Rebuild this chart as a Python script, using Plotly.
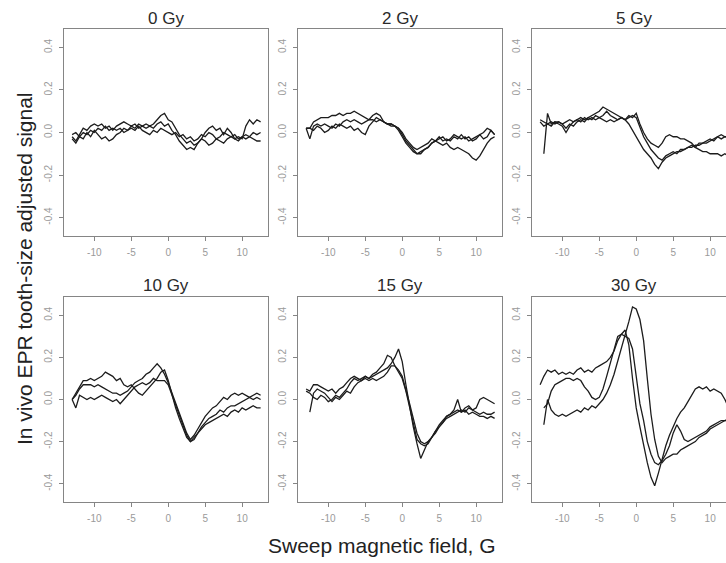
import plotly.graph_objects as go

# Sweep magnetic field grid (G)
field = [-13, -12.5, -12, -11.5, -11, -10.5, -10, -9.5, -9, -8.5, -8, -7.5, -7,
         -6.5, -6, -5.5, -5, -4.5, -4, -3.5, -3, -2.5, -2, -1.5, -1, -0.5,
         0, 0.5, 1, 1.5, 2, 2.5, 3, 3.5, 4, 4.5, 5, 5.5, 6, 6.5, 7, 7.5,
         8, 8.5, 9, 9.5, 10, 10.5, 11, 11.5, 12, 12.5]

N = None

gy0_a = [-0.02, -0.04, -0.01, 0.02, 0.01, 0.03, 0.04, 0.03, 0.04, 0.02, 0.03, 0.01, 0.03, 0.04, 0.05, 0.04, 0.03, 0.04, 0.02, 0.03, 0.04, 0.03, 0.04, 0.06, 0.08, 0.09,
         0.06, 0.05, 0.02, -0.01, -0.03, -0.05, -0.04, -0.06, -0.05, -0.03, -0.04, -0.06, -0.05, -0.03, -0.04, -0.05, -0.03, -0.02, -0.03, -0.02, -0.03, 0.03, 0.06, 0.04, 0.06, 0.05]
gy0_b = [-0.03, -0.05, -0.02, -0.03, 0.00, -0.02, 0.01, -0.01, -0.03, -0.02, -0.04, -0.03, -0.01, 0.00, 0.02, 0.01, 0.03, 0.02, 0.04, 0.03, 0.02, 0.03, 0.02, 0.04, 0.05, 0.03,
         0.04, 0.01, -0.01, -0.04, -0.06, -0.08, -0.07, -0.08, -0.05, -0.03, 0.00, 0.02, 0.03, 0.01, 0.02, -0.01, 0.02, 0.00, -0.03, -0.04, -0.02, -0.03, -0.02, -0.03, -0.04, -0.04]
gy0_c = [-0.01, 0.00, -0.02, 0.00, -0.01, 0.01, 0.00, 0.02, 0.01, 0.03, 0.01, 0.02, 0.01, 0.02, 0.00, 0.01, 0.02, 0.01, 0.03, 0.01, 0.00, -0.01, 0.01, 0.00, 0.02, 0.01,
         0.00, -0.01, 0.00, -0.02, -0.01, -0.03, -0.02, -0.04, -0.03, -0.01, -0.02, 0.00, -0.01, -0.03, -0.02, 0.00, -0.01, -0.02, -0.01, -0.03, -0.02, -0.01, -0.02, 0.00, -0.01, 0.00]

gy2_a = [0.02, 0.02, 0.05, 0.06, 0.07, 0.07, 0.07, 0.08, 0.08, 0.09, 0.08, 0.09, 0.09, 0.10, 0.09, 0.08, 0.07, 0.06, 0.06, 0.05, 0.06, 0.05, 0.04, 0.04, 0.03, 0.02,
         0.00, -0.03, -0.05, -0.07, -0.08, -0.07, -0.06, -0.05, -0.03, -0.04, -0.02, -0.04, -0.03, -0.04, -0.02, -0.03, -0.01, -0.03, -0.02, -0.04, -0.03, -0.01, -0.03, -0.02, 0.01, -0.01]
gy2_b = [0.02, -0.03, 0.03, 0.04, 0.03, 0.04, 0.03, 0.02, 0.04, 0.03, 0.05, 0.06, 0.05, 0.06, 0.05, 0.04, 0.05, 0.06, 0.08, 0.09, 0.08, 0.05, 0.04, 0.04, 0.03, 0.02,
         -0.01, -0.04, -0.06, -0.08, -0.10, -0.09, -0.08, -0.07, -0.05, -0.04, -0.03, -0.02, -0.04, -0.03, -0.01, -0.02, -0.03, -0.02, -0.04, -0.03, -0.02, -0.01, 0.00, 0.02, 0.01, -0.01]
gy2_c = [0.02, 0.02, 0.01, 0.03, 0.02, 0.00, 0.01, 0.03, 0.02, 0.04, 0.03, 0.02, 0.03, 0.01, 0.02, 0.00, -0.01, 0.03, 0.05, 0.07, 0.06, 0.05, 0.04, 0.03, 0.03, 0.01,
         -0.02, -0.05, -0.07, -0.09, -0.10, -0.10, -0.08, -0.07, -0.05, -0.04, -0.05, -0.06, -0.05, -0.07, -0.08, -0.07, -0.08, -0.09, -0.10, -0.12, -0.13, -0.11, -0.08, -0.05, -0.03, -0.02]

gy5_a = [0.06, 0.05, 0.04, 0.05, 0.04, 0.05, 0.04, 0.05, 0.06, 0.05, 0.06, 0.07, 0.06, 0.07, 0.08, 0.09, 0.10, 0.12, 0.11, 0.10, 0.09, 0.08, 0.07, 0.06, 0.04, 0.01,
         -0.02, -0.05, -0.08, -0.10, -0.12, -0.15, -0.17, -0.14, -0.12, -0.11, -0.10, -0.09, -0.09, -0.08, -0.07, -0.07, -0.06, -0.06, -0.05, -0.05, -0.04, -0.03, -0.02, -0.03, -0.02, -0.02]
gy5_b = [N, -0.10, 0.09, 0.04, 0.05, 0.04, 0.03, 0.00, 0.03, 0.05, 0.06, 0.05, 0.07, 0.06, 0.07, 0.06, 0.07, 0.08, 0.10, 0.08, 0.07, 0.06, 0.07, 0.06, 0.07, 0.08,
         0.07, 0.02, -0.02, -0.05, -0.08, -0.10, -0.12, -0.13, -0.11, -0.10, -0.09, -0.10, -0.08, -0.08, -0.07, -0.06, -0.07, -0.05, -0.05, -0.04, -0.03, -0.04, -0.02, -0.01, -0.02, -0.02]
gy5_c = [0.05, 0.03, 0.04, 0.03, 0.05, 0.05, 0.04, 0.02, 0.04, 0.03, 0.05, 0.06, 0.05, 0.07, 0.06, 0.08, 0.07, 0.06, 0.05, 0.06, 0.05, 0.06, 0.07, 0.06, 0.08, 0.07,
         0.09, 0.04, 0.00, -0.03, -0.05, -0.06, -0.07, -0.05, -0.02, -0.01, -0.02, -0.02, -0.03, -0.03, -0.04, -0.05, -0.07, -0.08, -0.09, -0.09, -0.10, -0.10, -0.10, -0.11, -0.10, -0.11]

gy10_a = [0.00, 0.02, 0.05, 0.07, 0.07, 0.07, 0.06, 0.07, 0.06, 0.05, 0.04, 0.03, 0.03, 0.02, 0.03, 0.04, 0.06, 0.08, 0.09, 0.10, 0.12, 0.13, 0.15, 0.17, 0.15, 0.12,
          0.08, 0.03, -0.02, -0.07, -0.12, -0.16, -0.19, -0.17, -0.14, -0.11, -0.08, -0.06, -0.04, -0.03, -0.01, 0.01, 0.00, 0.02, 0.03, 0.02, 0.03, 0.02, 0.01, 0.02, 0.03, 0.02]
gy10_b = [0.00, 0.03, 0.06, 0.09, 0.09, 0.10, 0.09, 0.10, 0.11, 0.13, 0.12, 0.11, 0.09, 0.10, 0.07, 0.06, 0.07, 0.05, 0.03, 0.02, 0.04, 0.06, 0.08, 0.10, 0.13, 0.14,
          0.09, 0.02, -0.04, -0.09, -0.14, -0.18, -0.20, -0.18, -0.16, -0.13, -0.11, -0.09, -0.08, -0.07, -0.05, -0.06, -0.04, -0.03, -0.03, -0.02, -0.01, 0.00, 0.01, 0.00, 0.01, 0.00]
gy10_c = [0.00, -0.04, 0.02, 0.01, 0.00, 0.01, 0.00, 0.01, 0.02, 0.01, 0.00, -0.01, 0.00, -0.02, 0.00, 0.02, 0.04, 0.06, 0.07, 0.08, 0.07, 0.08, 0.10, 0.09, 0.09, 0.09,
          0.07, 0.02, -0.03, -0.08, -0.13, -0.17, -0.20, -0.19, -0.16, -0.14, -0.12, -0.11, -0.10, -0.09, -0.08, -0.07, -0.08, -0.06, -0.05, -0.06, -0.04, -0.05, -0.04, -0.03, -0.04, -0.04]

gy15_a = [0.04, 0.03, 0.01, 0.00, 0.02, 0.01, -0.01, 0.00, 0.02, 0.01, 0.03, 0.05, 0.08, 0.10, 0.09, 0.10, 0.11, 0.10, 0.11, 0.12, 0.13, 0.14, 0.15, 0.17, 0.20, 0.24,
          0.18, 0.07, -0.04, -0.13, -0.21, -0.28, -0.24, -0.20, -0.18, -0.15, -0.13, -0.11, -0.08, -0.07, -0.06, -0.05, -0.06, -0.05, -0.07, -0.06, -0.07, -0.08, -0.08, -0.09, -0.08, -0.09]
gy15_b = [0.05, 0.04, 0.07, 0.07, 0.06, 0.05, 0.04, 0.05, 0.03, 0.05, 0.06, 0.08, 0.10, 0.11, 0.10, 0.09, 0.11, 0.10, 0.12, 0.13, 0.15, 0.17, 0.21, 0.20, 0.16, 0.13,
          0.10, 0.04, -0.04, -0.12, -0.19, -0.21, -0.22, -0.21, -0.18, -0.15, -0.12, -0.10, -0.08, -0.07, -0.05, 0.00, -0.06, -0.04, -0.03, -0.05, -0.04, 0.00, 0.01, 0.00, -0.01, -0.02]
gy15_c = [N, -0.06, 0.03, 0.05, 0.04, 0.03, 0.01, -0.01, 0.01, 0.00, 0.02, 0.04, 0.03, 0.06, 0.08, 0.09, 0.10, 0.09, 0.10, 0.09, 0.10, 0.11, 0.13, 0.16, 0.16, 0.14,
          0.11, 0.05, -0.02, -0.09, -0.16, -0.20, -0.21, -0.20, -0.18, -0.16, -0.13, -0.11, -0.09, -0.08, -0.07, -0.06, -0.05, -0.06, -0.04, -0.05, -0.06, -0.07, -0.06, -0.07, -0.07, -0.06]

gy30_a = [N, -0.12, 0.00, -0.05, -0.07, -0.08, -0.07, -0.08, -0.07, -0.06, -0.05, -0.06, -0.04, -0.05, -0.03, -0.04, -0.02, 0.00, 0.03, 0.07, 0.12, 0.18, 0.24, 0.30, 0.37, 0.44,
          0.43, 0.38, 0.28, 0.10, -0.07, -0.19, -0.27, -0.30, -0.28, -0.27, -0.26, -0.26, -0.24, -0.23, -0.22, -0.21, -0.20, -0.18, -0.17, -0.16, -0.14, -0.13, -0.12, -0.11, -0.10, -0.10]
gy30_b = [N, -0.04, -0.02, 0.04, 0.07, 0.08, 0.09, 0.10, 0.10, 0.09, 0.10, 0.09, 0.06, 0.04, 0.01, 0.00, 0.01, 0.05, 0.11, 0.17, 0.24, 0.30, 0.31, 0.30, 0.29, 0.24,
          0.12, -0.02, -0.10, -0.20, -0.26, -0.30, -0.31, -0.29, -0.26, -0.22, -0.16, -0.12, -0.15, -0.19, -0.20, -0.19, -0.18, -0.17, -0.16, -0.15, -0.13, -0.12, -0.11, -0.10, -0.10, -0.09]
gy30_c = [0.07, 0.11, 0.14, 0.13, 0.14, 0.12, 0.13, 0.12, 0.13, 0.12, 0.14, 0.15, 0.13, 0.14, 0.13, 0.15, 0.16, 0.17, 0.18, 0.20, 0.23, 0.28, 0.31, 0.33, 0.26, 0.10,
          -0.04, -0.13, -0.22, -0.30, -0.37, -0.41, -0.35, -0.28, -0.22, -0.17, -0.13, -0.09, -0.06, -0.04, -0.01, 0.02, 0.05, 0.06, 0.05, 0.06, 0.04, 0.05, 0.04, 0.03, 0.00, -0.04]

panel_titles = ["0 Gy", "2 Gy", "5 Gy", "10 Gy", "15 Gy", "30 Gy"]
panel_series = [[gy0_a, gy0_b, gy0_c], [gy2_a, gy2_b, gy2_c], [gy5_a, gy5_b, gy5_c],
                [gy10_a, gy10_b, gy10_c], [gy15_a, gy15_b, gy15_c], [gy30_a, gy30_b, gy30_c]]

x_ticks = [-10, -5, 0, 5, 10]
x_ticktext = ["-10", "-5", "0", "5", "10"]
y_ticks = [-0.4, -0.2, 0.0, 0.2, 0.4]
y_ticktext = ["-0.4", "-0.2", "0.0", "0.2", "0.4"]

x_title = "Sweep magnetic field, G"
y_title = "In vivo EPR tooth-size adjusted signal"

W, H = 726, 563
FONT = "Liberation Sans, Arial, sans-serif"

col_px = [(64, 268), (298, 502), (532, 726)]
row_px = [(29, 236), (297, 502)]
full_w = 204
xr = (-14.1, 13.5)
yr = (-0.487, 0.487)

fig = go.Figure()
layout = {}
annotations = []
for i, (title, series) in enumerate(zip(panel_titles, panel_series)):
    r, c = divmod(i, 3)
    n = i + 1
    xa = "xaxis" if n == 1 else f"xaxis{n}"
    ya = "yaxis" if n == 1 else f"yaxis{n}"
    xref = "x" if n == 1 else f"x{n}"
    yref = "y" if n == 1 else f"y{n}"
    x0, x1 = col_px[c]
    y0, y1 = row_px[r]
    w = x1 - x0
    xmax = xr[0] + (xr[1] - xr[0]) * w / full_w
    for s in series:
        fig.add_trace(go.Scatter(x=field, y=s, mode="lines", xaxis=xref, yaxis=yref,
                                 line=dict(color="#1c1c1c", width=1.3), showlegend=False,
                                 connectgaps=False, hoverinfo="skip"))
    common = dict(showline=True, linecolor="#858585", linewidth=1.2, ticks="outside",
                  ticklen=4, tickcolor="#858585", tickwidth=1, showgrid=False, zeroline=False,
                  tickfont=dict(family=FONT, size=10, color="#9a9a9a"))
    layout[xa] = dict(domain=[x0 / W, x1 / W], range=[xr[0], xmax], anchor=yref,
                      tickvals=x_ticks, ticktext=x_ticktext, mirror=True,
                      ticklabelstandoff=3, fixedrange=True, **common)
    layout[ya] = dict(domain=[1 - y1 / H, 1 - y0 / H], range=list(yr), anchor=xref,
                      tickvals=y_ticks, ticktext=y_ticktext, tickangle=-90,
                      mirror=(c != 2), ticklabelstandoff=3, fixedrange=True, **common)
    cx = (x0 + full_w / 2) / W
    ty = 19 if r == 0 else 285
    annotations.append(dict(text=title, x=cx, y=1 - ty / H, xref="paper", yref="paper",
                            showarrow=False, xanchor="center", yanchor="middle",
                            font=dict(family=FONT, size=17, color="#2a2a2a", weight="normal")))

annotations.append(dict(text=x_title, x=382 / W, y=1 - 545 / H, xref="paper", yref="paper",
                        showarrow=False, xanchor="center", yanchor="middle",
                        font=dict(family=FONT, size=21, color="#222222", weight="normal")))
annotations.append(dict(text=y_title, x=24 / W, y=1 - 269 / H, xref="paper", yref="paper",
                        showarrow=False, xanchor="center", yanchor="middle", textangle=-90,
                        font=dict(family=FONT, size=21, color="#222222", weight="normal")))

fig.update_layout(width=W, height=H, margin=dict(l=0, r=0, t=0, b=0),
                  paper_bgcolor="white", plot_bgcolor="white", hovermode=False,
                  annotations=annotations, **layout)

fig.write_html("out.html", config={"displayModeBar": False},
               post_script="document.body.style.margin='0';document.body.style.padding='0';document.body.style.overflow='hidden';")
